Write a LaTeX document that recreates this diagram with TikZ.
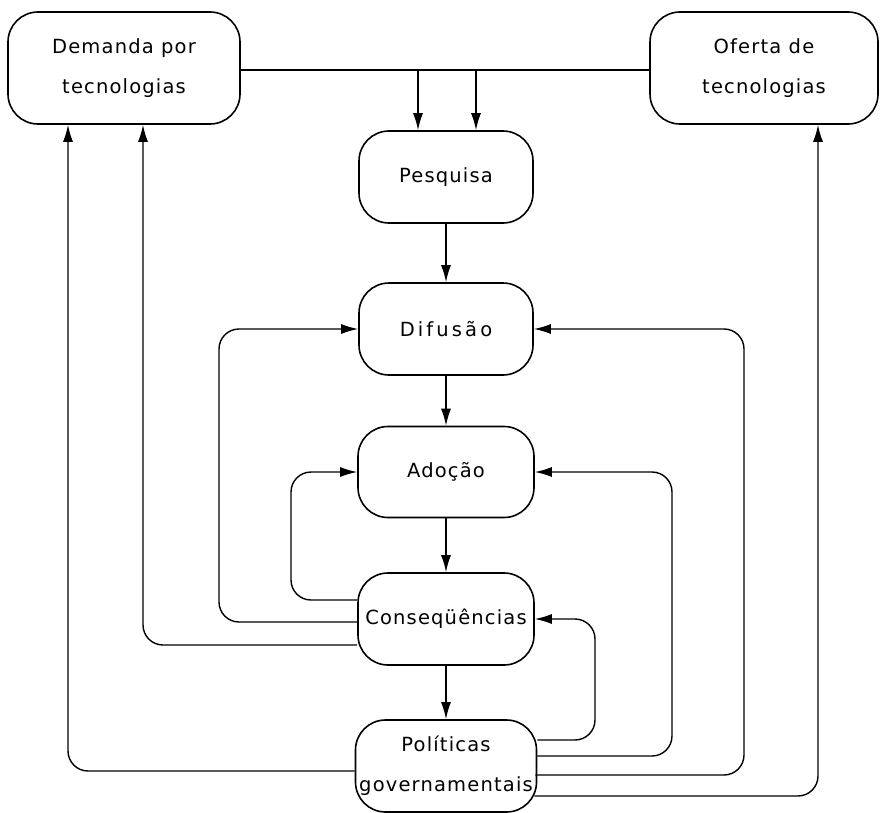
\documentclass[tikz,border=0pt]{standalone}
\usepackage{fontspec}
\setmainfont{DejaVu Sans}[LetterSpace=6]
\newfontfamily\widefont{DejaVu Sans}[LetterSpace=16]
\usetikzlibrary{arrows.meta}
\begin{document}
\begin{tikzpicture}[x=1pt,y=-1pt,
  box/.style={draw, line width=1.6pt, rounded corners=30pt, align=center,
    font=\fontsize{19.5}{40}\selectfont, inner sep=0pt},
  link/.style={line width=1.4pt, rounded corners=20pt},
  arr/.style={link, -{Latex[length=17pt,width=10pt]}}]
\useasboundingbox (0,0) rectangle (880,813);

\node[box, minimum width=232pt, minimum height=112pt] (dem) at (124,68) {Demanda por\\tecnologias};
\node[box, minimum width=228pt, minimum height=112pt] (ofe) at (764,68) {Oferta de\\tecnologias};
\node[box, minimum width=174pt, minimum height=92pt] (pes) at (446,177) {Pesquisa};
\node[box, minimum width=174pt, minimum height=92pt] (dif) at (446,329) {\widefont Difusão};
\node[box, minimum width=176pt, minimum height=91pt] (ado) at (446,472) {Adoção};
\node[box, minimum width=176pt, minimum height=92pt] (con) at (446,619) {Conseqüências};
\node[box, minimum width=181pt, minimum height=92pt] (pol) at (446,766) {Políticas\\governamentais};

\coordinate (j1) at (418,70);
\coordinate (j2) at (476,70);
\draw[link] (dem.east |- j1) -- (ofe.west |- j1);
\draw[arr] (j1) -- (j1 |- pes.north);
\draw[arr] (j2) -- (j2 |- pes.north);

\draw[arr] (pes.south) -- (dif.north);
\draw[arr] (dif.south) -- (ado.north);
\draw[arr] (ado.south) -- (con.north);
\draw[arr] (con.south) -- (pol.north);

\draw[arr] ([yshift=19pt]con.west) -| (291,540) |- (ado.west);
\draw[arr] ([yshift=-3pt]con.west) -| (219,470) |- (dif.west);
\draw[arr] ([yshift=-26pt]con.west) -| ([xshift=19pt]dem.south);
\draw[arr] ([yshift=-5pt]pol.west) -| ([xshift=-56pt]dem.south);

\draw[arr] ([yshift=26pt]pol.east) -| (595,680) |- (con.east);
\draw[arr] ([yshift=10pt]pol.east) -| (672,600) |- (ado.east);
\draw[arr] ([xshift=-2pt,yshift=-9pt]pol.east) -| (744,550) |- (dif.east);
\draw[arr] ([xshift=-3pt,yshift=-30pt]pol.east) -| ([xshift=54pt]ofe.south);
\end{tikzpicture}
\end{document}
